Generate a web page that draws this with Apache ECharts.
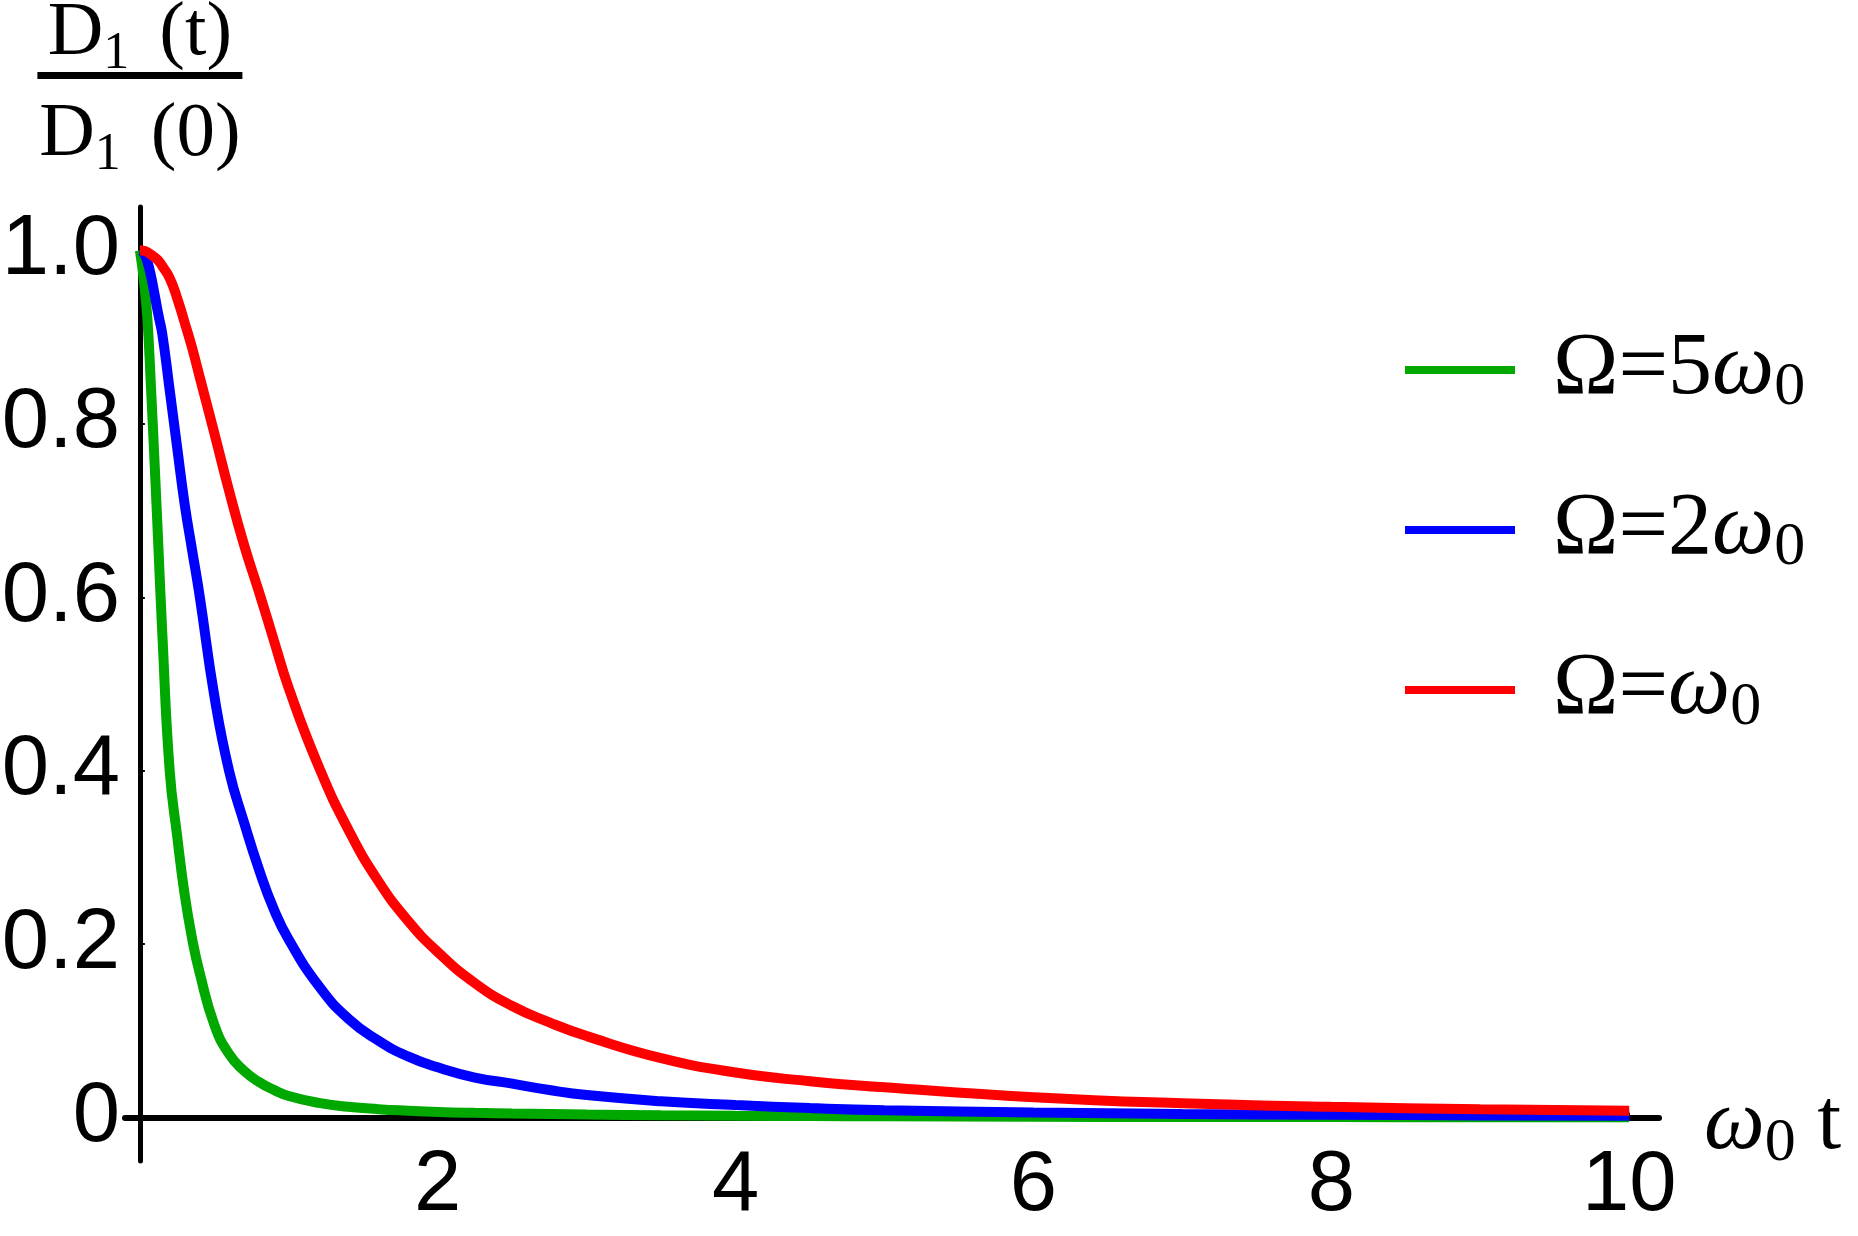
<!DOCTYPE html>
<html>
<head>
<meta charset="utf-8">
<script src="https://cdn.jsdelivr.net/npm/echarts@6/dist/echarts.min.js"></script>
<style>
  html, body { margin: 0; padding: 0; background: #fff; }
  #chart { width: 1858px; height: 1236px; }
</style>
</head>
<body>
<div id="chart"></div>
<script>
// omega_0 t
var t = [0, 0.025, 0.05, 0.075, 0.1, 0.125, 0.15, 0.2, 0.25, 0.3, 0.35, 0.4, 0.5, 0.6, 0.7, 0.8, 0.9, 1.0,
         1.2, 1.4, 1.6, 1.8, 2.0, 2.25, 2.5, 2.75, 3.0, 3.5, 4.0, 4.5, 5.0, 6.0, 7.0, 8.0, 9.0, 10.0];

// D1(t)/D1(0)
var green5 = [1.0, 0.968, 0.922, 0.84, 0.75, 0.655, 0.56, 0.40, 0.325, 0.258, 0.207, 0.168, 0.107, 0.073, 0.054, 0.041, 0.032, 0.025,
              0.017, 0.0125, 0.0098, 0.008, 0.0066, 0.0055, 0.0047, 0.0041, 0.0036, 0.0028, 0.0022, 0.0018, 0.0015, 0.001, 0.0008, 0.0006, 0.0005, 0.0004];
var blue2 = [1.0, 0.997, 0.987, 0.970, 0.948, 0.925, 0.904, 0.839, 0.773, 0.708, 0.655, 0.603, 0.486, 0.399, 0.340, 0.286, 0.240, 0.205,
             0.152, 0.114, 0.089, 0.0706, 0.058, 0.0462, 0.0392, 0.0318, 0.026, 0.0189, 0.0145, 0.011, 0.0085, 0.0059, 0.0043, 0.0033, 0.0026, 0.0021];
var red1 = [1.0, 0.9995, 0.998, 0.995, 0.992, 0.988, 0.982, 0.968, 0.945, 0.917, 0.888, 0.855, 0.789, 0.722, 0.660, 0.606, 0.550, 0.495,
            0.405, 0.332, 0.273, 0.227, 0.191, 0.155, 0.1287, 0.1098, 0.094, 0.0686, 0.052, 0.042, 0.035, 0.0235, 0.0165, 0.0125, 0.0098, 0.0078];

var xTickValues = [2, 4, 6, 8, 10];
var xTickLabels = ['2', '4', '6', '8', '10'];
var yTickValues = [0, 0.2, 0.4, 0.6, 0.8, 1.0];
var yTickLabels = ['0', '0.2', '0.4', '0.6', '0.8', '1.0'];

var seriesNames = ['Ω=5ω0', 'Ω=2ω0', 'Ω=ω0'];
var legendTexts = ['{a|Ω=5}{w|ω}{s|0}', '{a|Ω=2}{w|ω}{s|0}', '{a|Ω=}{w|ω}{s|0}'];
var colors = ['#00a800', '#0000ff', '#ff0000'];

function pairs(ys) {
    return t.map(function (x, i) { return [x, ys[i]]; });
}
function pick(values, labels, v) {
    for (var i = 0; i < values.length; i++) {
        if (Math.abs(values[i] - v) < 1e-6) return labels[i];
    }
    return '';
}

var serif = 'Liberation Serif';
var sans = 'Liberation Sans';

var option = {
    animation: false,
    backgroundColor: '#fff',
    grid: { left: 125, right: 199, top: 207, bottom: 75, outerBoundsMode: 'none' },
    legend: {
        orient: 'vertical',
        left: 1405,
        top: 321,
        padding: 0,
        itemGap: 62,
        itemWidth: 110,
        itemHeight: 8,
        icon: 'rect',
        selectedMode: false,
        data: seriesNames,
        formatter: function (name) {
            return legendTexts[seriesNames.indexOf(name)];
        },
        textStyle: {
            rich: {
                a: { fontFamily: serif, fontSize: 88, lineHeight: 90, color: '#000', padding: [0, 0, 0, 33] },
                w: { fontFamily: serif, fontStyle: 'italic', fontSize: 88, lineHeight: 90, color: '#000' },
                s: { fontFamily: serif, fontSize: 62, lineHeight: 90, color: '#000', padding: [36, 0, 0, 0] }
            }
        }
    },
    xAxis: {
        type: 'value',
        min: -0.1,
        max: 10.2,
        z: 3,
        splitLine: { show: false },
        axisLine: { onZero: true, lineStyle: { color: '#000', width: 6 } },
        axisTick: { show: true, inside: true, length: 5, customValues: xTickValues, lineStyle: { color: '#000', width: 2 } },
        axisLabel: {
            customValues: xTickValues,
            margin: -17,
            fontFamily: sans,
            fontSize: 85,
            color: '#000',
            formatter: function (v) { return pick(xTickValues, xTickLabels, v); }
        },
        name: '{w|ω}{s|0}{t| t}',
        nameLocation: 'end',
        nameGap: 45,
        nameTextStyle: {
            padding: [16, 0, 0, 0],
            rich: {
                w: { fontFamily: serif, fontStyle: 'italic', fontSize: 86, lineHeight: 90, color: '#000' },
                s: { fontFamily: serif, fontSize: 62, lineHeight: 90, color: '#000', padding: [36, 0, 0, 0] },
                t: { fontFamily: serif, fontSize: 86, lineHeight: 90, color: '#000' }
            }
        }
    },
    yAxis: {
        type: 'value',
        min: -0.05,
        max: 1.05,
        splitLine: { show: false },
        axisLine: { onZero: true, lineStyle: { color: '#000', width: 5 } },
        axisTick: { show: true, inside: true, length: 5, customValues: yTickValues, lineStyle: { color: '#000', width: 2 } },
        axisLabel: {
            customValues: yTickValues,
            margin: 5,
            fontFamily: sans,
            fontSize: 85,
            color: '#000',
            formatter: function (v) { return pick(yTickValues, yTickLabels, v); }
        },
        name: '{n1|D}{s|1}{p1|(t)}\n{bar| }\n{n2|D}{s|1}{p2|(0)}',
        nameLocation: 'end',
        nameGap: 16,
        nameTextStyle: {
            align: 'center',
            rich: {
                n1: { fontFamily: serif, fontSize: 77, lineHeight: 76, color: '#000', align: 'center' },
                p1: { fontFamily: serif, fontSize: 77, lineHeight: 76, color: '#000', align: 'center', padding: [0, 0, 0, 30] },
                n2: { fontFamily: serif, fontSize: 77, lineHeight: 76, color: '#000', align: 'center' },
                p2: { fontFamily: serif, fontSize: 77, lineHeight: 112, color: '#000', align: 'center', padding: [0, 0, 0, 30] },
                s: { fontFamily: serif, fontSize: 52, lineHeight: 70, color: '#000', align: 'center', padding: [40, 0, 0, 0] },
                bar: { width: 205, height: 7, lineHeight: 7, fontSize: 4, backgroundColor: '#000', align: 'center' }
            }
        }
    },
    series: [
        { name: seriesNames[0], type: 'line', data: pairs(green5) },
        { name: seriesNames[1], type: 'line', data: pairs(blue2) },
        { name: seriesNames[2], type: 'line', data: pairs(red1) }
    ].map(function (s, i) {
        s.showSymbol = false;
        s.smooth = 0.5;
        s.itemStyle = { color: colors[i] };
        s.lineStyle = { color: colors[i], width: 10 };
        return s;
    })
};

var myChart = echarts.init(document.getElementById('chart'));
myChart.setOption(option);
</script>
</body>
</html>
